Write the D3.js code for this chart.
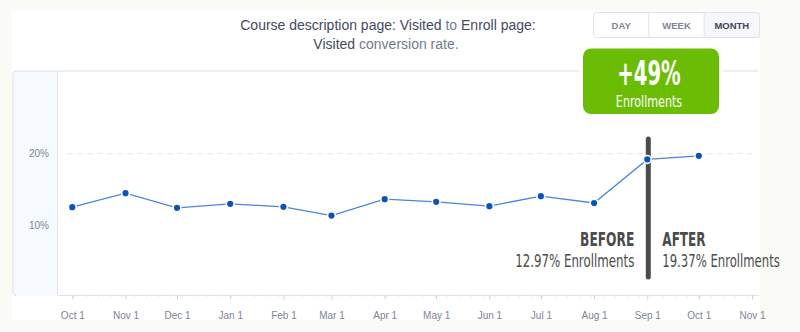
<!DOCTYPE html>
<html>
<head>
<meta charset="utf-8">
<script src="https://cdn.jsdelivr.net/npm/d3@7"></script>
<style>
  html, body { margin: 0; padding: 0; background: #fafbf6; }
  svg { display: block; }
  .cond { font-family: "Liberation Sans Narrow", "DejaVu Sans Condensed", "DejaVu Sans", sans-serif; }
</style>
</head>
<body>
<svg id="chart" width="800" height="332"></svg>
<script>
// Monthly conversion rate (%), Oct 2016 – Oct 2017
const months = ["2016-10-01","2016-11-01","2016-12-01","2017-01-01","2017-02-01","2017-03-01",
                "2017-04-01","2017-05-01","2017-06-01","2017-07-01","2017-08-01","2017-09-01","2017-10-01"];
const rates  = [12.49, 14.44, 12.39, 12.95, 12.53, 11.32, 13.60, 13.23, 12.63, 14.02, 13.07, 19.12, 19.62];
const yTicks = [10, 20];
const periods = ["DAY", "WEEK", "MONTH"];
const changeMonth = "2017-09-01";   // first month after the change

const parse = d3.timeParse("%Y-%m-%d");
const data = months.map((m, i) => ({ date: parse(m), value: rates[i] }));
const split = parse(changeMonth);
const before = data.filter(d => d.date < split);
const after = data.filter(d => d.date >= split);
const meanBefore = d3.mean(before, d => d.value);
const meanAfter = d3.mean(after, d => d.value);
const lift = meanAfter / meanBefore - 1;

const svg = d3.select("#chart");
const sans = "'Liberation Sans', Arial, sans-serif";

// card
svg.append("rect").attr("x", 12).attr("y", 10).attr("width", 748).attr("height", 310).attr("fill", "#fff");

const x = d3.scaleTime()
  .domain([parse("2016-10-01"), parse("2017-11-01")])
  .range([72.3, 752]);
const y = d3.scaleLinear().domain([0, 31]).range([297, 74]);

const frame = { left: 13, right: 759, top: 71, bottom: 295.5, axisLeft: 57.5 };

// title
const title = svg.append("text").attr("text-anchor", "middle")
  .attr("font-family", sans).attr("font-size", 14);
const l1 = title.append("tspan").attr("x", 388).attr("y", 29.5);
l1.append("tspan").attr("fill", "#434a60").text("Course description page: Visited ");
l1.append("tspan").attr("fill", "#737a8e").text("to ");
l1.append("tspan").attr("fill", "#434a60").text("Enroll page:");
const l2 = title.append("tspan").attr("x", 386).attr("y", 48.5);
l2.append("tspan").attr("fill", "#434a60").text("Visited ");
l2.append("tspan").attr("fill", "#737a8e").text("conversion rate.");

// period switch
const btnX = d3.scaleBand().domain(periods).range([593.5, 759.5]);
const btn = svg.append("g");
btn.append("rect").attr("x", 704.5).attr("y", 12.5).attr("width", 55).attr("height", 25).attr("fill", "#f5f7fa");
btn.append("rect").attr("x", 593.5).attr("y", 12.5).attr("width", 166).attr("height", 25).attr("rx", 3)
  .attr("fill", "none").attr("stroke", "#dfe3ea");
btn.selectAll("line").data(periods.slice(1)).join("line")
  .attr("x1", d => btnX(d)).attr("x2", d => btnX(d)).attr("y1", 12.5).attr("y2", 37.5)
  .attr("stroke", "#dfe3ea");
btn.selectAll("text").data(periods).join("text")
  .attr("x", d => btnX(d) + btnX.bandwidth() / 2).attr("y", 28.5)
  .attr("text-anchor", "middle").attr("font-family", sans)
  .attr("font-size", 9.5).attr("font-weight", "bold")
  .attr("fill", d => d === "MONTH" ? "#3f4659" : "#7d8496")
  .text(d => d);

// plot frame: y-label panel, top rule, left edge
svg.append("path")
  .attr("d", `M${frame.axisLeft},${frame.top}H${frame.left + 3}Q${frame.left},${frame.top} ${frame.left},${frame.top + 3}V${frame.bottom - 3}Q${frame.left},${frame.bottom} ${frame.left + 3},${frame.bottom}H${frame.axisLeft}Z`)
  .attr("fill", "#f6f9fd");
svg.append("path")
  .attr("d", `M${frame.right},${frame.top}H${frame.left + 3}Q${frame.left},${frame.top} ${frame.left},${frame.top + 3}V${frame.bottom - 3}Q${frame.left},${frame.bottom} ${frame.left + 3},${frame.bottom}`)
  .attr("fill", "none").attr("stroke", "#dde1e8");
svg.append("line").attr("x1", frame.axisLeft).attr("x2", frame.axisLeft)
  .attr("y1", frame.top).attr("y2", frame.bottom).attr("stroke", "#e1e5ec");

// grid
svg.append("g").selectAll("line").data([20]).join("line")
  .attr("x1", 67).attr("x2", 752).attr("y1", d => y(d) + 0.5).attr("y2", d => y(d) + 0.5)
  .attr("stroke", "#e3e8f0").attr("stroke-dasharray", "6,4");

// y labels
svg.append("g").selectAll("text").data(yTicks).join("text")
  .attr("x", 49).attr("y", d => y(d) + 3.5).attr("text-anchor", "end")
  .attr("font-family", sans).attr("font-size", 10)
  .attr("fill", "#7d8496").text(d => d + "%");

// x axis: weekly minor ticks, monthly labelled ticks
const gx = svg.append("g").attr("transform", `translate(0,${frame.bottom})`);
gx.append("line").attr("x1", frame.axisLeft).attr("x2", frame.right).attr("stroke", "#dde1e8");
gx.append("g").call(d3.axisBottom(x).ticks(d3.timeWeek.every(1)).tickSize(2).tickFormat(""))
  .call(g => g.select(".domain").remove())
  .call(g => g.selectAll("line").attr("stroke", "#e6e9ef"));
gx.append("g").call(d3.axisBottom(x).ticks(d3.timeMonth.every(1)).tickSize(4).tickPadding(12)
    .tickFormat(d3.timeFormat("%b %-d")))
  .call(g => g.select(".domain").remove())
  .call(g => g.selectAll("line").attr("stroke", "#c9ced9"))
  .call(g => g.selectAll("text").attr("fill", "#7d8496").attr("font-size", 10)
    .attr("font-family", sans));

// before / after divider
const xs = x(split) + 1;
svg.append("line").attr("x1", xs).attr("x2", xs).attr("y1", 139).attr("y2", 277)
  .attr("stroke", "#4b4b4b").attr("stroke-width", 5).attr("stroke-linecap", "round");

// series
svg.append("path").datum(data)
  .attr("d", d3.line().x(d => x(d.date)).y(d => y(d.value)))
  .attr("fill", "none").attr("stroke", "#4a86da").attr("stroke-width", 1.3);
svg.append("g").selectAll("circle").data(data).join("circle")
  .attr("cx", d => x(d.date)).attr("cy", d => y(d.value)).attr("r", 3.9)
  .attr("fill", "#0d50c0").attr("stroke", "#fff").attr("stroke-width", 1.6);

// annotations (condensed lettering)
const fmt = d3.format(".2f");
function condensed(parent, tx, ty, sx) {
  return parent.append("text").attr("class", "cond")
    .attr("transform", `translate(${tx},${ty}) scale(${sx},1)`);
}
const ann = svg.append("g").attr("fill", "#4b4b4b");
condensed(ann, xs - 14, 246, 0.68).attr("text-anchor", "end")
  .attr("font-size", 20).attr("font-weight", "bold").text("BEFORE");
condensed(ann, xs - 14, 266.5, 0.73).attr("text-anchor", "end")
  .attr("font-size", 18).text(`${fmt(meanBefore)}% Enrollments`);
condensed(ann, xs + 14, 246, 0.67).attr("text-anchor", "start")
  .attr("font-size", 20).attr("font-weight", "bold").text("AFTER");
condensed(ann, xs + 14, 266.5, 0.72).attr("text-anchor", "start")
  .attr("font-size", 18).text(`${fmt(meanAfter)}% Enrollments`);

// lift badge
const badge = svg.append("g");
badge.append("rect").attr("x", 579).attr("y", 45).attr("width", 144).attr("height", 73).attr("rx", 11).attr("fill", "#fff");
badge.append("rect").attr("x", 583).attr("y", 48.5).attr("width", 136).attr("height", 65.5).attr("rx", 8).attr("fill", "#6abd04");
condensed(badge, 649, 84.5, 0.66).attr("text-anchor", "middle").attr("fill", "#fff")
  .attr("font-size", 33).attr("font-weight", "bold").text("+" + d3.format(".0%")(lift));
condensed(badge, 649, 107, 0.75).attr("text-anchor", "middle").attr("fill", "#fff")
  .attr("font-size", 16.5).text("Enrollments");
</script>
</body>
</html>
